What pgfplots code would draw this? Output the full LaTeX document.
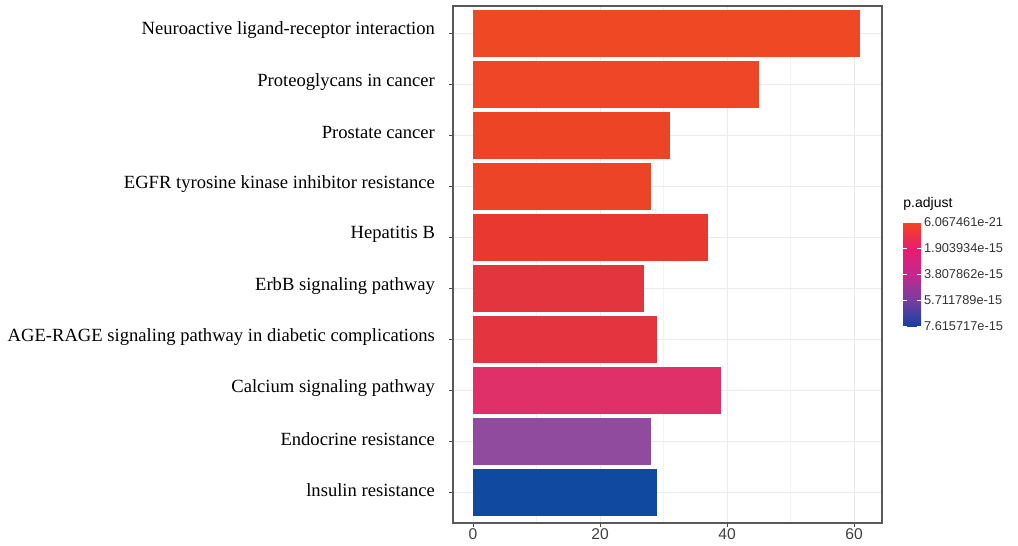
\documentclass[border=0pt]{standalone}
\usepackage{pgfplots}
\pgfplotsset{compat=1.18}
\usepackage{fontspec}
\setmainfont{Liberation Serif}
\newfontfamily\sansf{Liberation Sans}
\definecolor{c1}{RGB}{238,72,36}
\definecolor{c2}{RGB}{238,70,38}
\definecolor{c3}{RGB}{237,68,38}
\definecolor{c4}{RGB}{236,68,38}
\definecolor{c5}{RGB}{232,56,48}
\definecolor{c6}{RGB}{226,53,62}
\definecolor{c7}{RGB}{228,52,64}
\definecolor{c8}{RGB}{224,48,106}
\definecolor{c9}{RGB}{144,74,158}
\definecolor{c10}{RGB}{16,73,160}
\definecolor{gridc}{RGB}{235,235,235}
\begin{document}
\begin{tikzpicture}
\useasboundingbox (0,0) rectangle (509pt,273pt);
\begin{axis}[
  at={(226.5pt,11.5pt)}, anchor=south west,
  scale only axis, width=214.5pt, height=258.5pt,
  xbar, bar width=0.92, bar shift=0pt,
  y dir=reverse,
  xmin=-3.15, xmax=64.4, ymin=0.461, ymax=10.59,
  xtick={0,20,40,60}, minor xtick={10,30,50},
  ytick={1,...,10},
  yticklabels={Neuroactive ligand-receptor interaction, Proteoglycans in cancer, Prostate cancer, EGFR tyrosine kinase inhibitor resistance, Hepatitis B, ErbB signaling pathway, AGE-RAGE signaling pathway in diabetic complications, Calcium signaling pathway, Endocrine resistance, lnsulin resistance},
  yticklabel style={font=\fontsize{9.3}{11}\selectfont, text=black, xshift=-3.5pt, yshift=1.5pt},
  xticklabel style={font=\sansf\fontsize{7.8}{9}\selectfont, text=black!75, yshift=2.5pt},
  /pgf/number format/assume math mode=true,
  tick align=outside, major tick length=2pt, minor tick length=0pt,
  tick style={black!70, line width=0.5pt},
  xtick pos=bottom, ytick pos=left,
  grid=both, major grid style={gridc, line width=0.5pt}, minor grid style={gridc!60, line width=0.3pt},
  axis line style={black!65, line width=0.6pt},
  point meta min=0, point meta max=4,
  colormap={padj}{rgb255(0)=(22,64,162) rgb255(1)=(120,62,160) rgb255(2)=(196,40,140) rgb255(3)=(232,30,110) rgb255(4)=(242,70,30)},
  colorbar,
  colorbar style={
    at={(1.049,0.381)}, anchor=south west,
    width=9pt, height=52pt,
    ytick={0,1,2,3,4},
    yticklabels={7.615717e-15,5.711789e-15,3.807862e-15,1.903934e-15,6.067461e-21},
    yticklabel style={font=\sansf\fontsize{6.4}{7}\selectfont, text=black!80, xshift=-2pt},
    axis line style={draw=none},
    major tick length=2pt, tick style={white, line width=0.4pt},
    tick align=inside,
    title={p.adjust},
    title style={font=\sansf\fontsize{7}{8}\selectfont, anchor=south west, at={(0,1)}, inner xsep=0pt, yshift=-3.5pt},
  },
]
\addplot[draw=none, fill=c1] coordinates {(61,1)};
\addplot[draw=none, fill=c2] coordinates {(45,2)};
\addplot[draw=none, fill=c3] coordinates {(31,3)};
\addplot[draw=none, fill=c4] coordinates {(28,4)};
\addplot[draw=none, fill=c5] coordinates {(37,5)};
\addplot[draw=none, fill=c6] coordinates {(27,6)};
\addplot[draw=none, fill=c7] coordinates {(29,7)};
\addplot[draw=none, fill=c8] coordinates {(39,8)};
\addplot[draw=none, fill=c9] coordinates {(28,9)};
\addplot[draw=none, fill=c10] coordinates {(29,10)};
\end{axis}
\end{tikzpicture}
\end{document}
